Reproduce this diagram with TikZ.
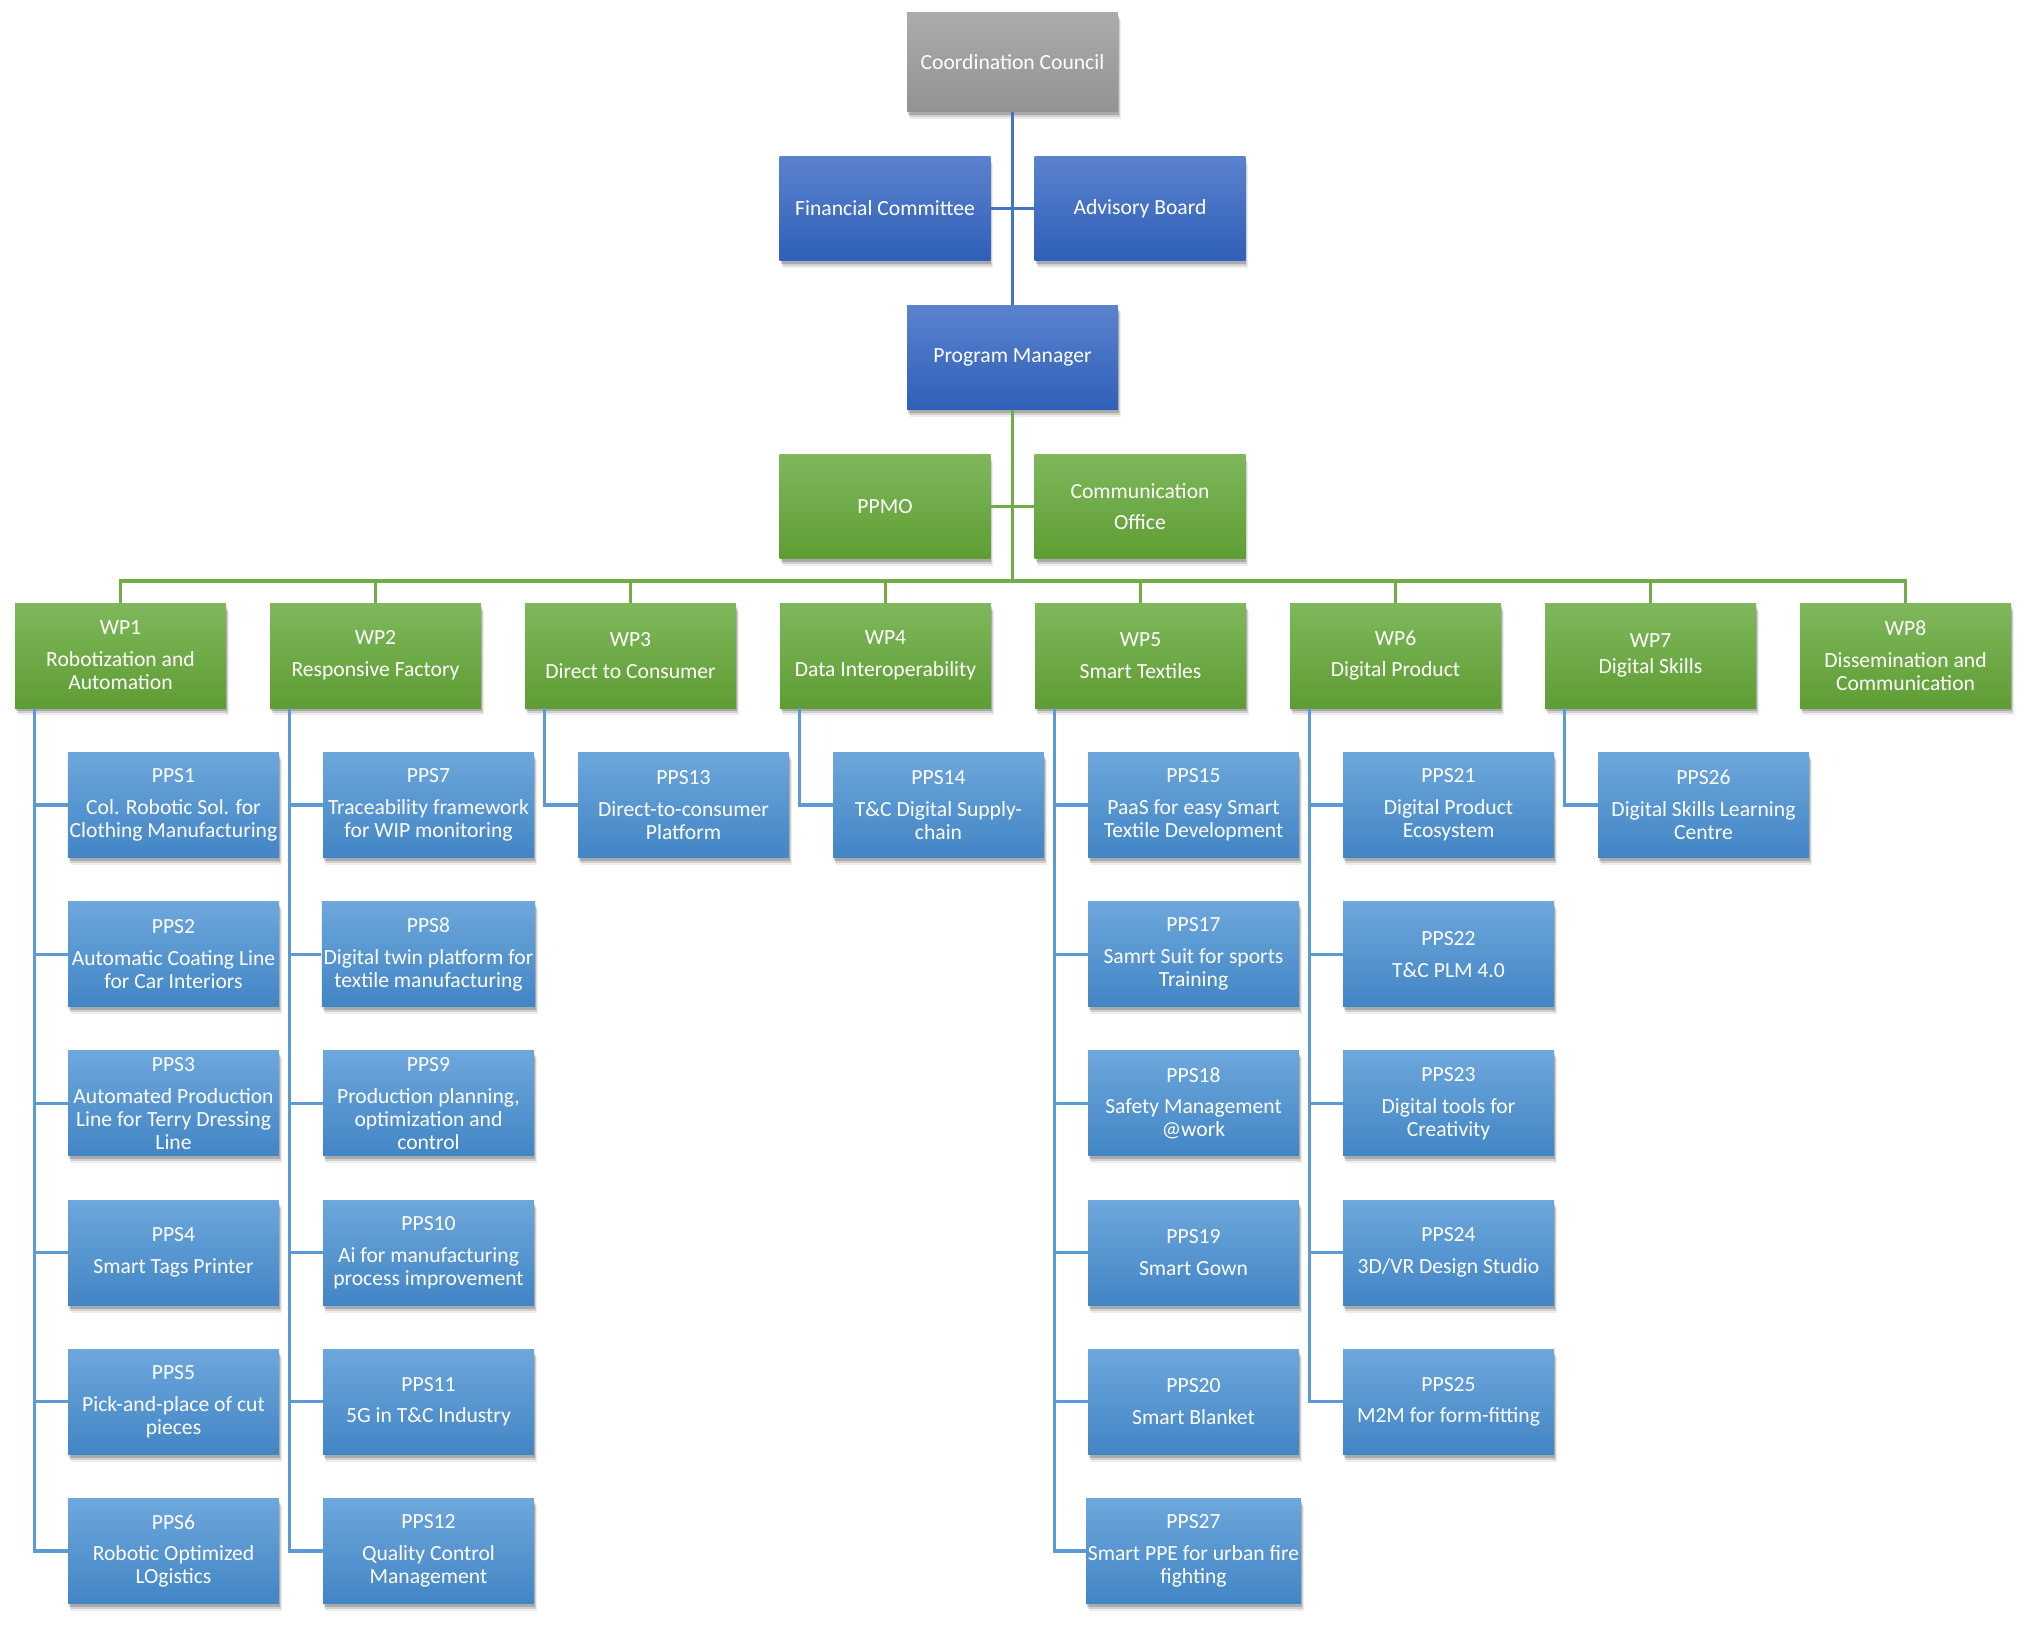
\documentclass[tikz,border=0pt]{standalone}
\usepackage{fontspec}
\setmainfont{Carlito}
\usetikzlibrary{shadows}

\definecolor{ccTop}{HTML}{ABABAB}
\definecolor{ccBot}{HTML}{939393}
\definecolor{bxTop}{HTML}{5B82CE}
\definecolor{bxBot}{HTML}{2F5FB8}
\definecolor{grTop}{HTML}{7FB85C}
\definecolor{grBot}{HTML}{5E9D33}
\definecolor{ppTop}{HTML}{6DA7DC}
\definecolor{ppBot}{HTML}{4285C5}
\definecolor{lnBlue}{HTML}{4472C4}
\definecolor{lnGreen}{HTML}{70AD47}
\definecolor{lnPps}{HTML}{5B9BD5}

\tikzset{
  box/.style={minimum width=4.22cm, minimum height=2.1cm, align=center, text=white,
    inner sep=1pt, font=\fontsize{12.3}{13.1}\selectfont,
    drop shadow={shadow xshift=0.06cm, shadow yshift=-0.15cm, opacity=0.07, fill=black},
    drop shadow={shadow xshift=0.04cm, shadow yshift=-0.11cm, opacity=0.12, fill=black},
    drop shadow={shadow xshift=0.02cm, shadow yshift=-0.07cm, opacity=0.18, fill=black}},
  graybox/.style={box, minimum height=2cm, top color=ccTop, bottom color=ccBot},
  bluebox/.style={box, top color=bxTop, bottom color=bxBot},
  greenbox/.style={box, top color=grTop, bottom color=grBot},
  ppsbox/.style={box, top color=ppTop, bottom color=ppBot},
  blueline/.style={draw=lnBlue, line width=2.2pt},
  greenline/.style={draw=lnGreen, line width=2pt},
  ppsline/.style={draw=lnPps, line width=1.8pt}
}

\begin{document}
\begin{tikzpicture}[x=0.02cm, y=-0.02cm]
  \useasboundingbox (0,0) rectangle (2024,1636);

  % 1. Hội đồng và các ban phía trên
  \node[graybox] (cc) at (1012.5,62) {Coordination Council};
  \node[bluebox] (fc) at (885,208.5) {Financial Committee};
  \node[bluebox] (ab) at (1140,208.5) {Advisory Board};
  \node[bluebox] (pm) at (1012.5,357.5) {Program Manager};
  \node[greenbox] (ppmo) at (885,506.5) {PPMO};
  \node[greenbox] (co) at (1140,506.5) {Communication\\[4.5pt]Office};
  \coordinate (bus) at (1012.5,581);

  % 2. Các gói công việc (WP)
  \foreach \i/\txt in {1/{Robotization and\\Automation}, 2/{Responsive Factory},
      3/{Direct to Consumer}, 4/{Data Interoperability}, 5/{Smart Textiles},
      6/{Digital Product}, 8/{Dissemination and\\Communication}} {
    \node[greenbox] (wp\i) at ({120.5+255*(\i-1)},655.5) {WP\i\\[5pt]\txt};
  }
  \node[greenbox] (wp7) at ({120.5+255*6},655.5) {WP7\\[1.5pt]Digital Skills};

  % 3. Các dự án PPS (số / cột / hàng / nội dung)
  \foreach \n/\c/\r/\txt in {
      1/0/0/{Col. Robotic Sol. for\\Clothing Manufacturing},
      2/0/1/{Automatic Coating Line\\for Car Interiors},
      3/0/2/{Automated Production\\Line for Terry Dressing\\Line},
      4/0/3/{Smart Tags Printer},
      5/0/4/{Pick-and-place of cut\\pieces},
      6/0/5/{Robotic Optimized\\LOgistics},
      7/1/0/{Traceability framework\\for WIP monitoring},
      8/1/1/{Digital twin platform for\\textile manufacturing},
      9/1/2/{Production planning,\\optimization and\\control},
      10/1/3/{Ai for manufacturing\\process improvement},
      11/1/4/{5G in T\&C Industry},
      12/1/5/{Quality Control\\Management},
      13/2/0/{Direct-to-consumer\\Platform},
      14/3/0/{T\&C Digital Supply-\\chain},
      15/4/0/{PaaS for easy Smart\\Textile Development},
      17/4/1/{Samrt Suit for sports\\Training},
      18/4/2/{Safety Management\\@work},
      19/4/3/{Smart Gown},
      20/4/4/{Smart Blanket},
      27/4/5/{Smart PPE for urban fire\\fighting},
      21/5/0/{Digital Product\\Ecosystem},
      22/5/1/{T\&C PLM 4.0},
      23/5/2/{Digital tools for\\Creativity},
      24/5/3/{3D/VR Design Studio},
      25/5/4/{M2M for form-fitting},
      26/6/0/{Digital Skills Learning\\Centre}} {
    \node[ppsbox] (pps\n) at ({173.5+255*\c},{805+149.2*\r}) {PPS\n\\[5pt]\txt};
  }

  % 4. Đường nối phía trên
  \draw[blueline] (cc.south) -- (pm.north);
  \draw[blueline] (fc.east) -- (ab.west);
  \draw[greenline] (pm.south) -- (bus);
  \draw[greenline] (ppmo.east) -- (co.west);
  \foreach \i in {1,...,8} {
    \draw[greenline] (wp\i.north) |- (bus);
  }

  % 5. Đường nối WP -> PPS
  \foreach \n/\w in {1/1,2/1,3/1,4/1,5/1,6/1,7/2,8/2,9/2,10/2,11/2,12/2,13/3,14/4,
      15/5,17/5,18/5,19/5,20/5,27/5,21/6,22/6,23/6,24/6,25/6,26/7} {
    \draw[ppsline] ([xshift=0.4cm]wp\w.south west) |- (pps\n.west);
  }
\end{tikzpicture}
\end{document}
